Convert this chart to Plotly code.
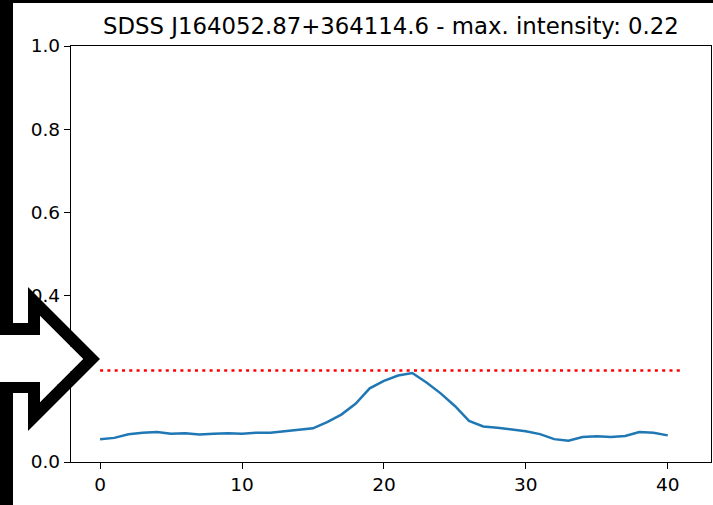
import plotly.graph_objects as go

# ---- data ----
x_vals = list(range(41))
intensity = [0.0545, 0.058, 0.0665, 0.0705, 0.072, 0.068, 0.069, 0.066, 0.068, 0.069,
             0.068, 0.0705, 0.0705, 0.0737, 0.0777, 0.081, 0.096, 0.114, 0.140, 0.177,
             0.195, 0.208, 0.214, 0.191, 0.165, 0.1346, 0.099, 0.0855, 0.0825, 0.078,
             0.074, 0.067, 0.055, 0.051, 0.060, 0.0617, 0.060, 0.0625, 0.072, 0.0705,
             0.064]
threshold_x = [0, 41]
threshold_y = [0.22, 0.22]
title_text = "SDSS J164052.87+364114.6 - max. intensity: 0.22"
y_ticks = [0.0, 0.2, 0.4, 0.6, 0.8, 1.0]
x_ticks = [0, 10, 20, 30, 40]

# ---- layout geometry (pixels) ----
WIDTH, HEIGHT = 713, 505
L, R, T, B = 71, 711, 46, 462
PW, PH = R - L, B - T

def px(x):
    return (x - L) / PW

def py(y):
    return (B - y) / PH

fig = go.Figure()
fig.add_trace(go.Scatter(x=x_vals, y=intensity, mode="lines",
                         line=dict(color="#1f77b4", width=2.5), showlegend=False))
fig.add_trace(go.Scatter(x=threshold_x, y=threshold_y, mode="lines",
                         line=dict(color="#ff0000", width=2.5, dash="3px,4.3px"),
                         showlegend=False))

axis_common = dict(showline=True, linecolor="black", linewidth=1.3, mirror=True,
                   ticks="outside", ticklen=6, tickwidth=1.3, tickcolor="black",
                   showgrid=False, zeroline=False,
                   tickfont=dict(family="DejaVu Sans", size=18.5, color="black"))

fig.update_xaxes(range=[-2.05, 43.05], tickvals=x_ticks,
                 ticktext=[str(v) for v in x_ticks], **axis_common)
fig.update_yaxes(range=[0, 1], tickvals=y_ticks,
                 ticktext=[f"{v:.1f}" for v in y_ticks], **axis_common)

# black frame pieces and outlined arrow (white interior)
outer = [(0, 0), (713, 0), (713, 3), (13, 3), (13, 323), (28, 323), (28, 287),
         (100, 359), (28, 431), (28, 393), (13, 393), (13, 505), (0, 505)]
hole = [(-5, 335), (40, 335), (40, 316), (83, 359), (40, 402), (40, 382), (-5, 382)]

def to_path(pts):
    return "M " + " L ".join(f"{px(a):.5f},{py(b):.5f}" for a, b in pts) + " Z"

fig.add_shape(type="path", xref="paper", yref="paper",
              path=to_path(outer) + " " + to_path(hole),
              fillcolor="black", line=dict(width=0), fillrule="evenodd",
              layer="above")
fig.add_shape(type="path", xref="paper", yref="paper",
              path=to_path(hole),
              fillcolor="white", line=dict(width=0),
              layer="above")

fig.add_annotation(text=title_text, xref="paper", yref="paper",
                   x=0.5, y=py(26), xanchor="center", yanchor="middle",
                   showarrow=False,
                   font=dict(family="DejaVu Sans", size=22.8, color="black"))

fig.update_layout(width=WIDTH, height=HEIGHT,
                  margin=dict(l=L, r=WIDTH - R, t=T, b=HEIGHT - B, pad=0),
                  paper_bgcolor="white", plot_bgcolor="white")

fig.write_html("out.html")
